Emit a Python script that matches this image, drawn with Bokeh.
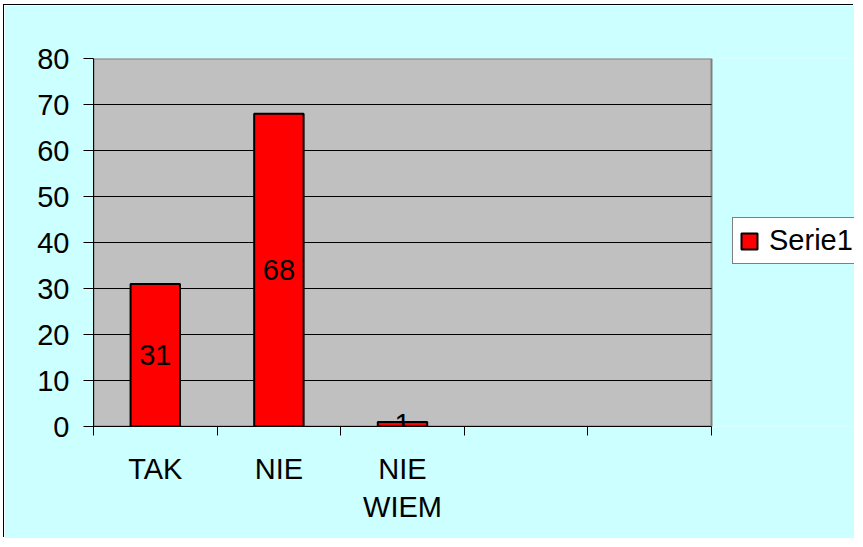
from bokeh.plotting import figure
from bokeh.models import FixedTicker, Legend, LegendItem, ColumnDataSource, Range1d
from bokeh.core.properties import value
from bokeh.embed import file_html
from bokeh.resources import INLINE

categories = ["TAK", "NIE", "NIE\nWIEM", "", ""]
values = [31, 68, 1]
series_name = "Serie1"
y_ticks = [0, 10, 20, 30, 40, 50, 60, 70, 80]

FONT = "Liberation Sans"
FS = "29px"

W, H = 850, 533
BL, BR, BT, BB = 89, 0, 53, 112
PLOT_W = 618  # pixel width of the grey plot area

n = len(categories)
positions = list(range(1, n + 1))
x_lo, x_hi = 0.5, n + 0.5
x_end = x_lo + (W - BL - BR) * (x_hi - x_lo) / PLOT_W

src = ColumnDataSource(dict(
    x=positions[:len(values)],
    top=values,
    mid=[v / 2 for v in values],
    label=[str(v) for v in values],
))

p = figure(width=W, height=H, output_backend="svg", toolbar_location=None,
           x_range=Range1d(x_lo, x_end), y_range=Range1d(y_ticks[0], y_ticks[-1]),
           min_border_left=BL, min_border_right=BR, min_border_top=BT, min_border_bottom=BB,
           background_fill_color="#CCFFFF", border_fill_color="#CCFFFF",
           outline_line_color=None,
           margin=(5, 0, 0, 4),
           styles={"box-shadow": "-1px -1px 0 0 black"})

# grey plot area
p.quad(left=[x_lo], right=[x_hi], bottom=[y_ticks[0]], top=[y_ticks[-1]],
       fill_color="#C0C0C0", line_color="#808080", line_width=2, level="image")

# horizontal grid lines limited to the plot area
grid_y = y_ticks[1:-1]
p.segment(x0=[x_lo] * len(grid_y), x1=[x_hi] * len(grid_y), y0=grid_y, y1=grid_y,
          line_color="black", line_width=1, level="underlay")

r = p.vbar(x="x", top="top", width=0.4, source=src, fill_color="#FF0000",
           line_color="black", line_width=2)
p.text(x="x", y="mid", text="label", source=src, text_align="center", text_baseline="middle",
       text_font=value(FONT), text_font_size=FS, text_color="black")

# y axis
p.yaxis.ticker = FixedTicker(ticks=y_ticks)
p.yaxis.major_tick_out = 10
p.yaxis.major_tick_in = 0
p.yaxis.minor_tick_line_color = None
p.yaxis.axis_line_color = "black"
p.yaxis.major_tick_line_color = "black"
p.yaxis.major_label_text_font = FONT
p.yaxis.major_label_text_font_size = FS
p.yaxis.major_label_text_color = "black"
p.yaxis.major_label_standoff = 14

# x axis
p.xaxis.bounds = (x_lo, x_hi)
p.xaxis.ticker = FixedTicker(ticks=positions, minor_ticks=[x - 0.5 for x in positions] + [x_hi])
p.xaxis.major_label_overrides = {pos: lab for pos, lab in zip(positions, categories)}
p.xaxis.major_tick_out = 0
p.xaxis.major_tick_in = 0
p.xaxis.minor_tick_out = 9
p.xaxis.minor_tick_in = 0
p.xaxis.minor_tick_line_color = "black"
p.xaxis.axis_line_color = "black"
p.xaxis.major_label_text_font = FONT
p.xaxis.major_label_text_font_size = FS
p.xaxis.major_label_text_color = "black"
p.xaxis.major_label_standoff = 17

p.xgrid.grid_line_color = None
p.ygrid.grid_line_color = None

legend = Legend(items=[LegendItem(label=series_name, renderers=[r])],
                location=(639, 162), margin=0, padding=6,
                glyph_width=20, glyph_height=20, label_standoff=10,
                label_text_font=FONT, label_text_font_size=FS, label_text_color="black",
                background_fill_color="white", background_fill_alpha=1,
                border_line_color="black", border_line_width=1)
p.add_layout(legend, "center")

open("out.html", "w").write(file_html(p, INLINE))
